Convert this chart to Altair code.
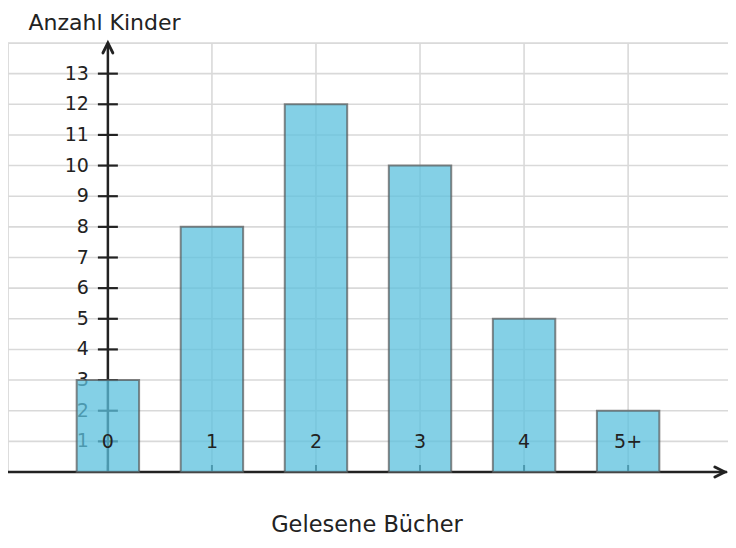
import altair as alt
import pandas as pd

categories = ["0", "1", "2", "3", "4", "5+"]
positions = [0, 1, 2, 3, 4, 5]
counts = [3, 8, 12, 10, 5, 2]
y_ticks = list(range(1, 14))
grid_y = list(range(1, 15))
grid_x = [0, 1, 2, 3, 4, 5]
y_title = "Anzahl Kinder"
x_title = "Gelesene Bücher"

W, H = 720, 429
X_MIN, X_MAX = -0.96, 5.96
FONT = "DejaVu Sans"
DARK = "#222222"
GRID = "#d9d9d9"

xs = alt.Scale(domain=[X_MIN, X_MAX], nice=False, zero=False)
ys = alt.Scale(domain=[0, 14], nice=False, zero=False)

bars_df = pd.DataFrame({"cat": categories, "pos": positions, "count": counts})
ytick_df = pd.DataFrame({"v": y_ticks, "lab": [str(v) for v in y_ticks]})
gy_df = pd.DataFrame({"v": grid_y})
gx_df = pd.DataFrame({"v": grid_x})
xt_df = pd.DataFrame({"v": positions})

gridx = alt.Chart(gx_df).mark_rule(color=GRID, strokeWidth=1.6).encode(
    x=alt.X("v:Q", scale=xs, axis=None), y=alt.value(0), y2=alt.value(H))
gridy = alt.Chart(gy_df).mark_rule(color=GRID, strokeWidth=1.6).encode(
    y=alt.Y("v:Q", scale=ys, axis=None), x=alt.value(0), x2=alt.value(W))

yaxis = alt.Chart(pd.DataFrame({"a": [0], "b": [14]})).mark_rule(color=DARK, strokeWidth=2.5).encode(
    x=alt.X("a:Q", scale=xs, axis=None), y=alt.Y("a:Q", scale=ys, axis=None), y2="b:Q")
xaxis = alt.Chart(pd.DataFrame({"a": [X_MIN], "b": [X_MAX - 0.01], "z": [0]})).mark_rule(color=DARK, strokeWidth=2.5).encode(
    x=alt.X("a:Q", scale=xs, axis=None), x2="b:Q", y=alt.Y("z:Q", scale=ys, axis=None))

yt = alt.Chart(ytick_df).transform_calculate(z="0").mark_tick(
    orient="horizontal", size=20, thickness=2.2, color=DARK, opacity=1).encode(
    x=alt.X("z:Q", scale=xs, axis=None), y=alt.Y("v:Q", scale=ys, axis=None))
ylab = alt.Chart(ytick_df).transform_calculate(z="0").mark_text(
    align="right", baseline="middle", dx=-19, fontSize=19, font=FONT, color=DARK).encode(
    x=alt.X("z:Q", scale=xs, axis=None), y=alt.Y("v:Q", scale=ys, axis=None), text="lab:N")

xt = alt.Chart(xt_df).mark_rule(color=DARK, strokeWidth=2).encode(
    x=alt.X("v:Q", scale=xs, axis=None), y=alt.value(H - 7), y2=alt.value(H))

arrow_up = alt.Chart(pd.DataFrame({"a": [0], "b": [14]})).mark_point(
    shape="M -0.5 1 L 0 0 L 0.5 1", filled=False, strokeWidth=2.8, size=400,
    color=DARK, opacity=1, strokeCap="round", strokeJoin="miter").encode(
    x=alt.X("a:Q", scale=xs, axis=None), y=alt.Y("b:Q", scale=ys, axis=None))
arrow_right = alt.Chart(pd.DataFrame({"a": [X_MAX - 0.03], "b": [0]})).mark_point(
    shape="M -1 -0.5 L 0 0 L -1 0.5", filled=False, strokeWidth=2.8, size=400,
    color=DARK, opacity=1, strokeCap="round", strokeJoin="miter").encode(
    x=alt.X("a:Q", scale=xs, axis=None), y=alt.Y("b:Q", scale=ys, axis=None))

bars = alt.Chart(bars_df).transform_calculate(
    x0="datum.pos - 0.3", x1="datum.pos + 0.3"
).mark_bar(color="#5bc0de", fillOpacity=0.75, stroke="#555555", strokeOpacity=0.7, strokeWidth=2).encode(
    x=alt.X("x0:Q", scale=xs, axis=None), x2="x1:Q",
    y=alt.Y("count:Q", scale=ys, axis=None), y2=alt.datum(0))

xlab = alt.Chart(bars_df).mark_text(align="center", baseline="middle", fontSize=19, font=FONT, color=DARK).encode(
    x=alt.X("pos:Q", scale=xs, axis=None), y=alt.value(H - 30), text="cat:N")

ttl_y = alt.Chart(pd.DataFrame({"t": [y_title]})).mark_text(
    align="left", baseline="alphabetic", fontSize=22, font=FONT, color=DARK).encode(
    x=alt.value(20.5), y=alt.value(-13), text="t:N")
ttl_x = alt.Chart(pd.DataFrame({"t": [x_title]})).mark_text(
    align="center", baseline="alphabetic", fontSize=22.5, font=FONT, color=DARK).encode(
    x=alt.value(359), y=alt.value(489), text="t:N")

chart = alt.layer(
    gridx, gridy, yaxis, xaxis, yt, ylab, xt, arrow_up, arrow_right, bars, xlab, ttl_y, ttl_x
).properties(
    width=W, height=H,
    autosize=alt.AutoSizeParams(type="none"),
    padding={"left": 0, "top": 35, "right": 0, "bottom": 66},
).configure_view(stroke=GRID, strokeWidth=1.6).configure(background="white")

chart.save("out.html", embed_options={"renderer": "svg", "actions": False})
